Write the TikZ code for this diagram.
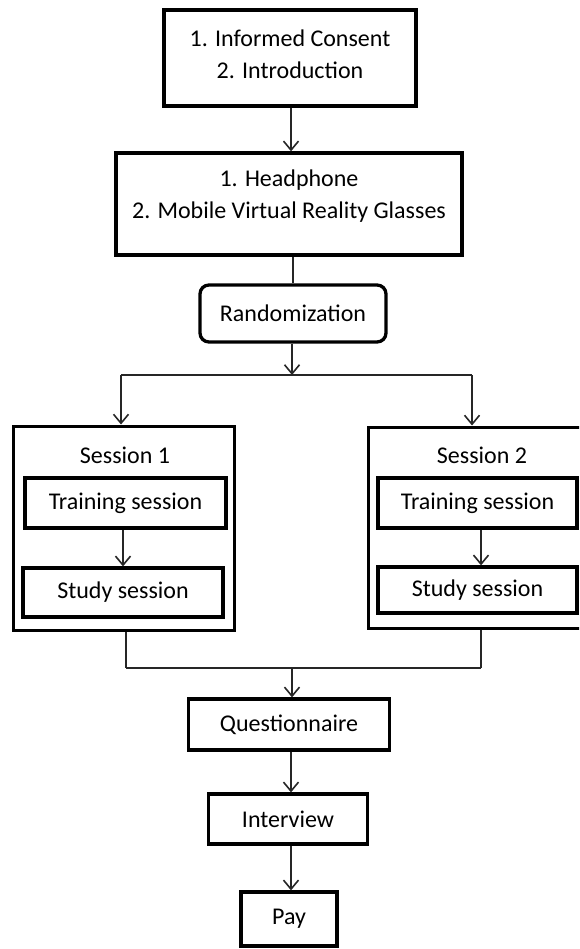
\documentclass[tikz,border=0pt]{standalone}
\usepackage{fontspec}
\setmainfont{Carlito}
\usetikzlibrary{arrows.meta}
\tikzset{
  box/.style={draw=black, line width=3.3pt, fill=white, inner sep=0pt, anchor=center},
  rbox/.style={box, rounded corners=9pt},
  txt/.style={inner sep=0pt, align=center, font=\fontsize{24}{32}\selectfont},
  conn/.style={draw=black!85, line width=1.8pt},
  arr/.style={conn, -{Straight Barb[length=9pt,width=15pt,line width=1.6pt]}},
}
\begin{document}
\begin{tikzpicture}[x=1pt,y=-1pt]
\useasboundingbox (0,0) rectangle (579,949);
\clip (0,0) rectangle (579,949);
% boxes
\node[box, minimum width=252pt, minimum height=96pt] (b1) at (290,58) {};
\node[txt] (b1t) at (290,54) {1. Informed Consent\\2. Introduction};
\node[box, minimum width=346pt, minimum height=102pt] (b2) at (289,204) {};
\node[txt] (b2t) at (289,196) {1. Headphone\\2. Mobile Virtual Reality Glasses};
\node[rbox, minimum width=186pt, minimum height=57pt] (rand) at (293,313.5) {};
\node[txt] (randt) at (293,313.5) {Randomization};
% session 1
\node[box, line width=3pt, minimum width=221pt, minimum height=204pt] (s1) at (123.5,528) {};
\node[txt] (s1t) at (125,455) {Session 1};
\node[box, minimum width=201pt, minimum height=50pt] (tr1) at (125.5,503) {};
\node[txt] (tr1t) at (125.5,503) {Training session};
\node[box, minimum width=200pt, minimum height=49pt] (st1) at (123,592.5) {};
\node[txt] (st1t) at (123,592.5) {Study session};
% session 2
\node[box, line width=3pt, minimum width=220pt, minimum height=201pt] (s2) at (478,527.5) {};
\node[txt] (s2t) at (482,455) {Session 2};
\node[box, minimum width=199pt, minimum height=50pt] (tr2) at (477.5,503) {};
\node[txt] (tr2t) at (477.5,503) {Training session};
\node[box, minimum width=199pt, minimum height=46pt] (st2) at (477.5,590) {};
\node[txt] (st2t) at (477.5,590) {Study session};
% bottom
\node[box, minimum width=201pt, minimum height=51pt] (q) at (289,724.5) {};
\node[txt] (qt) at (289,724.5) {Questionnaire};
\node[box, minimum width=159pt, minimum height=50pt] (iv) at (288,819) {};
\node[txt] (ivt) at (288,819) {Interview};
\node[box, minimum width=96pt, minimum height=54pt] (pay) at (289,919) {};
\node[txt] (payt) at (289,919) {Pay};
% coordinates
\coordinate (split) at (292,375);
\coordinate (sl) at (121,375);
\coordinate (sr) at (472,375);
\coordinate (jl) at (126,668);
\coordinate (jr) at (481,668);
\coordinate (join) at (292,668);
% connectors
\draw[arr] (b1.south -| 291,0) -- (b2.north -| 291,0);
\draw[conn] (rand.north) -- (rand.north |- b2.south);
\draw[arr] (split |- rand.south) -- (split);
\draw[conn, line width=1.5pt] (sl) -- (sr);
\draw[arr] (sl) -- (sl |- s1.north);
\draw[arr] (sr) -- (sr |- s2.north);
\draw[arr] (tr1.south -| 123,0) -- (st1.north -| 123,0);
\draw[arr] (tr2.south -| 481,0) -- (st2.north -| 481,0);
\draw[conn] (jl |- s1.south) -- (jl);
\draw[conn] (jr |- s2.south) -- (jr);
\draw[conn, line width=1.5pt] (jl) -- (jr);
\draw[arr] (join) -- (join |- q.north);
\draw[arr] (q.south -| 291,0) -- (iv.north -| 291,0);
\draw[arr] (iv.south -| 291,0) -- (pay.north -| 291,0);
\end{tikzpicture}
\end{document}
